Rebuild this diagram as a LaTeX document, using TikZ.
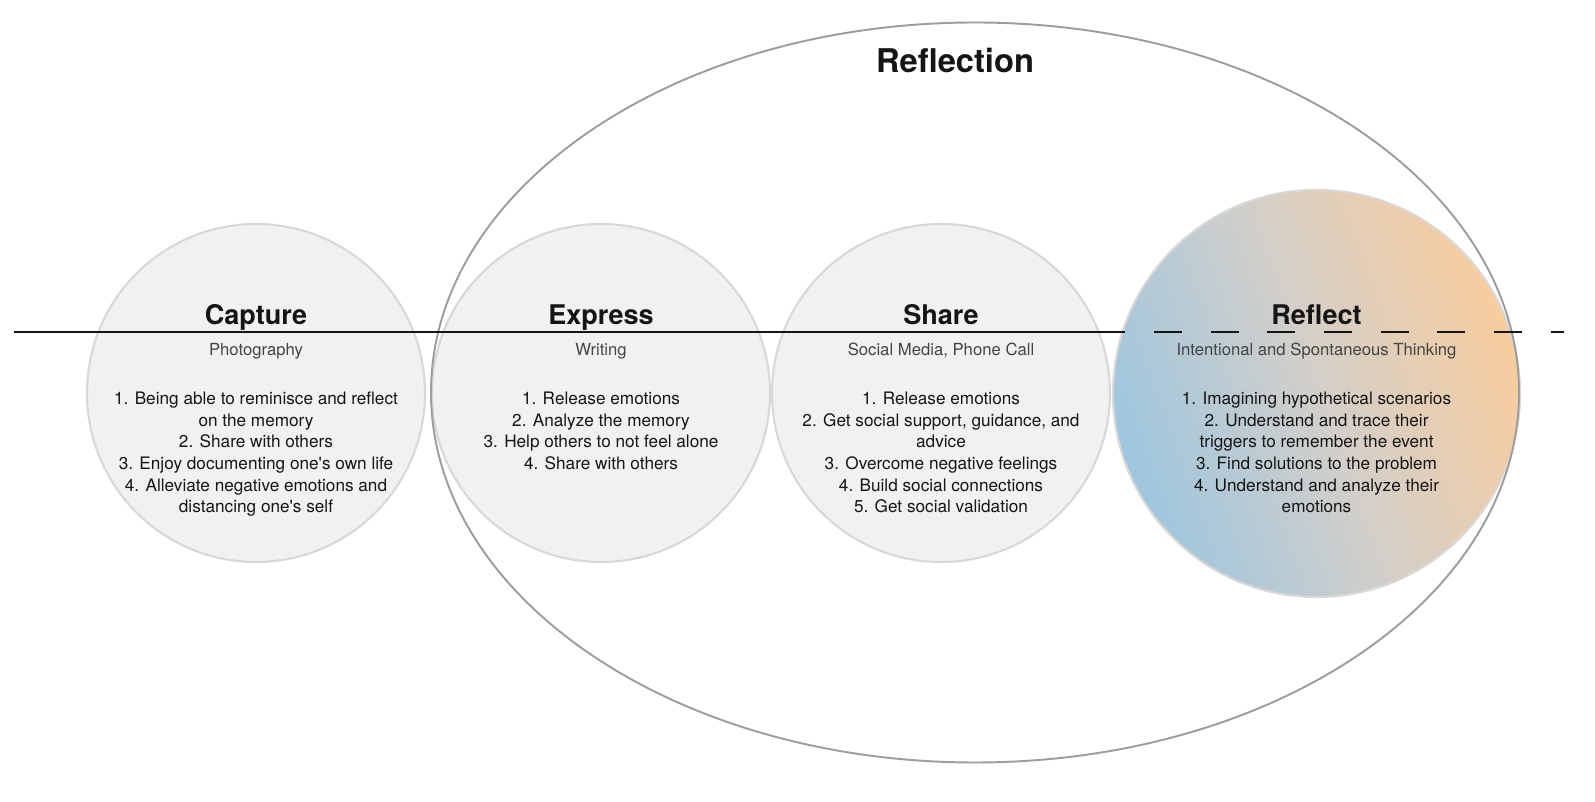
\documentclass[tikz,border=0pt]{standalone}
\usepackage{fontspec}
\setmainfont{TeX Gyre Heros}
\usetikzlibrary{shapes.geometric}
\definecolor{stagefill}{HTML}{F3F1F0}
\definecolor{stageedge}{HTML}{DAD8D6}
\definecolor{ringgray}{HTML}{9D9D9D}
\definecolor{subgray}{HTML}{444444}
\definecolor{inkblack}{HTML}{151515}
\definecolor{mistblue}{HTML}{9DC6DF}
\definecolor{peach}{HTML}{F8CD9E}
\definecolor{ashgray}{HTML}{D2CFCA}

\begin{document}
\begin{tikzpicture}[
	stage/.style={circle, draw=stageedge, line width=1.2pt, fill=stagefill, minimum size=6.76cm, inner sep=0pt},
	title/.style={anchor=base, text=inkblack, font=\fontsize{15.4}{18}\selectfont\bfseries},
	sub/.style={anchor=base, text=subgray, font=\fontsize{9.5}{12}\selectfont},
	items/.style={anchor=north, inner sep=0pt, align=center, text=inkblack, font=\fontsize{9.78}{12.35}\selectfont},
	]
	%\draw[help lines] (0,0) grid (32,16);
	\useasboundingbox (0,0) rectangle (31.9,16.02);
	\node[stage] (capture) at (5.12,8.16) {};
	\node[stage] (express) at (12.02,8.16) {};
	\node[stage] (share) at (18.82,8.16) {};
	\node[stage, minimum size=8.14cm, top color=peach, bottom color=mistblue, middle color=ashgray, shading angle=-70] (reflect) at (26.33,8.15) {};
	\node[ellipse, draw=ringgray, line width=1.1pt, minimum width=21.76cm, minimum height=14.8cm, inner sep=0pt] (reflection) at (19.5,8.17) {};
	% the time line
	\coordinate (linestart) at (0.28,9.38);
	\coordinate (linesplit) at (22.5,9.38);
	\coordinate (dashstart) at (23.08,9.38);
	\coordinate (lineend) at (31.28,9.38);
	\draw[inkblack, line width=1.4pt] (linestart) -- (linesplit);
	\draw[inkblack, line width=1.4pt, dash pattern=on 0.56cm off 0.573cm] (dashstart) -- (lineend);
	\node[anchor=base, text=inkblack, font=\fontsize{18.6}{22}\selectfont\bfseries] (reflectiontitle) at (19.1,14.56) {Reflection};
	% capture
	\node[title] (capturetitle) at (5.12,9.52) {Capture};
	\node[sub] (capturesub) at (5.12,8.9) {Photography};
	\node[items] (captureitems) at (5.12,8.19) {1. Being able to reminisce and reflect\\on the memory\\2. Share with others\\3. Enjoy documenting one\textquotesingle s own life\\4. Alleviate negative emotions and\\distancing one\textquotesingle s self};
	% express
	\node[title] (expresstitle) at (12.02,9.52) {Express};
	\node[sub] (expresssub) at (12.02,8.9) {Writing};
	\node[items] (expressitems) at (12.02,8.19) {1. Release emotions\\2. Analyze the memory\\3. Help others to not feel alone\\4. Share with others};
	% share
	\node[title] (sharetitle) at (18.82,9.52) {Share};
	\node[sub] (sharesub) at (18.82,8.9) {Social Media, Phone Call};
	\node[items] (shareitems) at (18.82,8.19) {1. Release emotions\\2. Get social support, guidance, and\\advice\\3. Overcome negative feelings\\4. Build social connections\\5. Get social validation};
	% reflect
	\node[title] (reflecttitle) at (26.33,9.52) {Reflect};
	\node[sub] (reflectsub) at (26.33,8.9) {Intentional and Spontaneous Thinking};
	\node[items] (reflectitems) at (26.33,8.19) {1. Imagining hypothetical scenarios\\2. Understand and trace their\\triggers to remember the event\\3. Find solutions to the problem\\4. Understand and analyze their\\emotions};
\end{tikzpicture}
\end{document}
